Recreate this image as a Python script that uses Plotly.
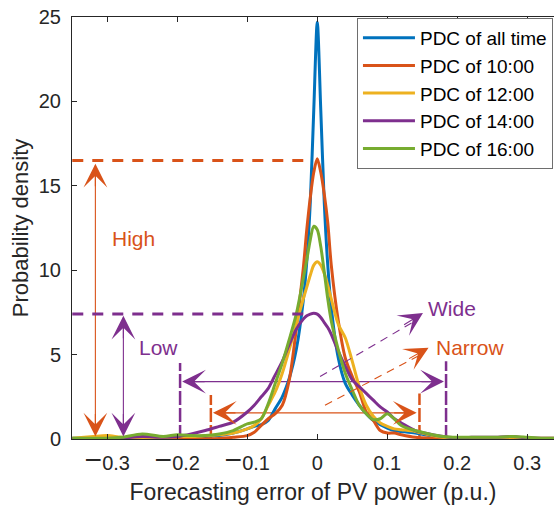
import plotly.graph_objects as go

# ---------------- data ----------------
x_err = [-0.35, -0.32, -0.30, -0.28, -0.25, -0.22, -0.20, -0.18, -0.16, -0.14, -0.12, -0.10,
         -0.09, -0.08, -0.07, -0.06, -0.05, -0.04, -0.03, -0.02, -0.015, -0.01, -0.005, 0.0,
         0.005, 0.01, 0.015, 0.02, 0.03, 0.04, 0.05, 0.06, 0.07, 0.08, 0.09, 0.10, 0.11, 0.12,
         0.14, 0.16, 0.18, 0.20, 0.22, 0.25, 0.28, 0.30, 0.32, 0.35]

pdc_all = [0.05, 0.05, 0.05, 0.05, 0.10, 0.10, 0.10, 0.10, 0.15, 0.20, 0.35, 0.60,
           0.75, 0.85, 1.10, 1.80, 2.50, 3.60, 5.30, 8.20, 10.5, 14.0, 19.5, 24.7,
           19.5, 14.0, 10.3, 7.80, 4.80, 3.30, 2.60, 2.00, 1.50, 1.10, 0.85, 0.65, 0.50, 0.45,
           0.35, 0.20, 0.10, 0.05, 0.05, 0.05, 0.05, 0.05, 0.03, 0.03]

pdc_10 = [0.02, 0.02, 0.02, 0.03, 0.03, 0.05, 0.05, 0.03, 0.02, 0.03, 0.10, 0.20,
          0.40, 0.80, 1.20, 1.50, 2.00, 3.50, 6.50, 10.1, 12.4, 14.3, 15.8, 16.6,
          15.8, 14.5, 12.8, 10.3, 7.00, 4.80, 3.70, 2.80, 1.60, 1.10, 0.50, 0.35, 0.35, 0.25,
          0.10, 0.05, 0.03, 0.03, 0.02, 0.02, 0.02, 0.02, 0.02, 0.02]

pdc_12 = [0.05, 0.15, 0.20, 0.10, 0.05, 0.10, 0.15, 0.15, 0.20, 0.25, 0.35, 0.60,
          0.80, 1.20, 2.00, 2.80, 3.90, 5.30, 6.80, 8.30, 9.00, 9.70, 10.3, 10.5,
          10.3, 9.80, 9.10, 8.30, 6.80, 6.00, 4.60, 3.10, 2.00, 1.35, 0.95, 0.75, 0.60, 0.55,
          0.45, 0.25, 0.10, 0.05, 0.05, 0.05, 0.10, 0.05, 0.05, 0.05]

pdc_14 = [0.02, 0.02, 0.02, 0.05, 0.15, 0.10, 0.15, 0.30, 0.50, 0.75, 1.00, 1.60,
          2.00, 2.50, 3.00, 3.80, 4.60, 5.60, 6.50, 7.10, 7.30, 7.40, 7.45, 7.40,
          7.20, 6.90, 6.60, 6.20, 5.20, 4.30, 3.50, 3.10, 2.70, 2.30, 1.90, 1.60, 1.20, 0.95,
          0.50, 0.30, 0.15, 0.05, 0.10, 0.10, 0.15, 0.05, 0.05, 0.05]

pdc_16 = [0.05, 0.05, 0.05, 0.10, 0.30, 0.15, 0.25, 0.20, 0.20, 0.30, 0.50, 0.90,
          1.00, 1.20, 2.10, 3.30, 4.50, 5.90, 7.40, 9.50, 10.6, 11.8, 12.6, 12.4,
          11.4, 9.90, 8.30, 7.00, 5.30, 3.90, 2.90, 2.00, 1.50, 1.15, 1.20, 1.50, 1.20, 0.80,
          0.50, 0.30, 0.15, 0.10, 0.10, 0.10, 0.15, 0.10, 0.05, 0.05]

series_names = ["PDC of all time", "PDC of 10:00", "PDC of 12:00", "PDC of 14:00", "PDC of 16:00"]
series_values = [pdc_all, pdc_10, pdc_12, pdc_14, pdc_16]

tick_vals = [-0.3, -0.2, -0.1, 0, 0.1, 0.2, 0.3]
MINUS = '<span style="font-size:30px">\u2212</span>'
tick_text = [MINUS + "0.3", MINUS + "0.2", MINUS + "0.1", "0", "0.1", "0.2", "0.3"]

# ---------------- style ----------------
colors = ["#0072BD", "#D95319", "#EDB120", "#7E2F8E", "#77AC30"]
ORANGE = "#D95319"
PURPLE = "#7E2F8E"
INK = "#262626"
FONT = "Liberation Sans, Arial, Helvetica, sans-serif"

fig = go.Figure()
for i, (name, vals) in enumerate(zip(series_names, series_values)):
    fig.add_trace(go.Scatter(
        x=x_err, y=vals, mode="lines", name=name, hoverinfo="skip",
        line=dict(color=colors[i], width=3, shape="spline", smoothing=0.8),
    ))

shapes = []
annotations = []

def seg(x0, y0, x1, y1, color, width, dash="solid", layer="below"):
    shapes.append(dict(type="line", xref="x", yref="y", x0=x0, y0=y0, x1=x1, y1=y1,
                       line=dict(color=color, width=width, dash=dash), layer=layer))

def head(x, y, dx_px, dy_px, color):
    # arrowhead at (x, y), pointing in direction (dx_px, dy_px) in screen pixels
    L = (dx_px ** 2 + dy_px ** 2) ** 0.5
    annotations.append(dict(x=x, y=y, xref="x", yref="y", text="", showarrow=True,
                            ax=-dx_px / L * 24, ay=-dy_px / L * 24,
                            arrowhead=3, arrowsize=3.6, arrowwidth=1.1, arrowcolor=color))

def label(x, y, text, color, size=21):
    annotations.append(dict(x=x, y=y, xref="x", yref="y", text=text, showarrow=False,
                            font=dict(color=color, size=size, family=FONT)))

# peak reference dashed lines
seg(-0.35, 16.5, -0.02, 16.5, ORANGE, 3, dash="11px,9px", layer="above")
seg(-0.35, 7.4, -0.02, 7.4, PURPLE, 3, dash="11px,9px", layer="above")

# vertical double arrows (High / Low)
seg(-0.317, 0.3, -0.317, 16.2, ORANGE, 1.1)
head(-0.317, 16.3, 0, -1, ORANGE)
head(-0.317, 0.15, 0, 1, ORANGE)
seg(-0.277, 0.3, -0.277, 7.2, PURPLE, 1.1)
head(-0.277, 7.3, 0, -1, PURPLE)
head(-0.277, 0.15, 0, 1, PURPLE)

# interval boundaries
seg(-0.196, 0, -0.196, 4.5, PURPLE, 2.5, dash="14px,3px")
seg(0.184, 0, 0.184, 4.6, PURPLE, 2.5, dash="14px,3px")
seg(-0.152, 0, -0.152, 2.6, ORANGE, 2.5, dash="14px,3px")
seg(0.146, 0, 0.146, 2.7, ORANGE, 2.5, dash="14px,3px")

# horizontal double arrows
seg(-0.19, 3.4, 0.178, 3.4, PURPLE, 1.1)
head(-0.193, 3.4, -1, 0, PURPLE)
head(0.181, 3.4, 1, 0, PURPLE)
seg(-0.146, 1.55, 0.139, 1.55, ORANGE, 1.1)
head(-0.149, 1.55, -1, 0, ORANGE)
head(0.142, 1.55, 1, 0, ORANGE)

# dashed diagonal arrows
seg(0.004, 3.7, 0.140, 7.0, PURPLE, 1.1, dash="8px,6px", layer="above")
head(0.151, 7.46, 103, -64, PURPLE)
seg(0.011, 2.0, 0.148, 5.0, ORANGE, 1.1, dash="8px,6px", layer="above")
head(0.159, 5.4, 103, -57, ORANGE)

# text labels
label(-0.262, 11.9, "High", ORANGE)
label(-0.227, 5.45, "Low", PURPLE)
label(0.193, 7.76, "Wide", PURPLE)
label(0.219, 5.45, "Narrow", ORANGE)

fig.update_layout(
    width=554, height=508,
    margin=dict(l=72, r=0, t=17, b=69, pad=0, autoexpand=False),
    paper_bgcolor="white", plot_bgcolor="white",
    font=dict(family=FONT, color=INK, size=20),
    shapes=shapes, annotations=annotations,
    showlegend=True,
    legend=dict(x=0.5912, y=0.998, xanchor="left", yanchor="top",
                bgcolor="white", bordercolor="#6e6e6e", borderwidth=1,
                font=dict(size=19, color="black", family=FONT),
                itemwidth=52),
    xaxis=dict(range=[-0.3504, 0.3382], tickvals=tick_vals, ticktext=tick_text,
               ticks="inside", ticklen=5, tickcolor=INK, tickwidth=1,
               showline=True, linecolor=INK, linewidth=1, mirror="ticks",
               showgrid=False, zeroline=False, ticklabelstandoff=6, automargin=False,
               ticklabeloverflow="allow",
               tickfont=dict(size=20, color=INK),
               title=dict(text="Forecasting error of PV power (p.u.)",
                          font=dict(size=23, color=INK), standoff=8)),
    yaxis=dict(range=[0, 25], tickvals=[0, 5, 10, 15, 20, 25],
               ticks="inside", ticklen=5, tickcolor=INK, tickwidth=1,
               showline=True, linecolor=INK, linewidth=1, mirror=False,
               showgrid=False, zeroline=False, ticklabelstandoff=6, automargin=False,
               ticklabeloverflow="allow",
               tickfont=dict(size=20, color=INK),
               title=dict(text="Probability density",
                          font=dict(size=22, color=INK), standoff=4)),
)

# remove the default 8px page margin so the 554x508 figure fills the window
fig.write_html("out.html", config={"displayModeBar": False},
               post_script="document.body.style.margin='0';")
